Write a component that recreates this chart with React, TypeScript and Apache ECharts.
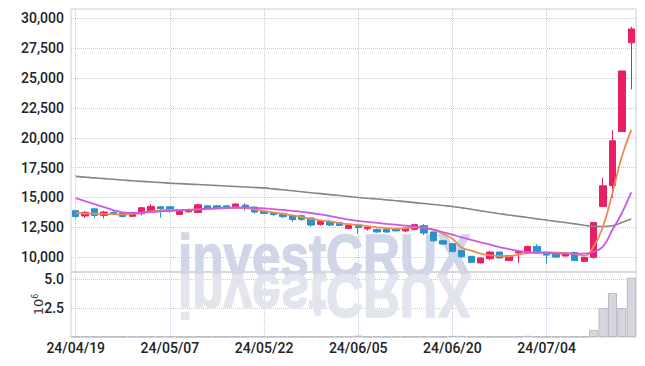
import React, { useEffect, useRef } from 'react';
import * as echarts from 'echarts';

const dates = [
  '24/04/19','24/04/22','24/04/23','24/04/24','24/04/25','24/04/26','24/04/29','24/04/30','24/05/02','24/05/03',
  '24/05/07','24/05/08','24/05/09','24/05/10','24/05/13','24/05/14','24/05/16','24/05/17','24/05/20','24/05/21',
  '24/05/22','24/05/23','24/05/24','24/05/27','24/05/28','24/05/29','24/05/30','24/05/31','24/06/03','24/06/04',
  '24/06/05','24/06/07','24/06/10','24/06/11','24/06/12','24/06/13','24/06/14','24/06/17','24/06/18','24/06/19',
  '24/06/20','24/06/21','24/06/24','24/06/25','24/06/26','24/06/27','24/06/28','24/07/01','24/07/02','24/07/03',
  '24/07/04','24/07/05','24/07/08','24/07/09','24/07/10','24/07/11','24/07/12','24/07/15','24/07/16','24/07/17',
];

const opens = [
  13890,13450,14050,13500,13750,13700,13420,13640,13800,14220,
  14220,13580,13800,13750,14300,14300,14300,14220,14360,14200,
  13830,13720,13640,13500,13470,13280,12750,13000,12890,12410,
  12700,12380,12330,12330,12360,12200,12330,12640,12110,11380,
  11130,10570,10070,9520,9870,10430,9730,10350,10400,10900,
  10350,10400,10100,10400,9650,9990,14250,16000,20520,27960,
];
const closes = [
  13410,13750,13500,13780,13620,13410,13720,14140,14250,14060,
  13890,13890,13970,14390,14055,14080,14190,14450,14080,13780,
  13660,13580,13390,13140,13160,12690,13000,12690,12660,12660,
  12470,12490,12110,12110,12200,12440,12720,12020,11380,11100,
  10490,10040,9570,9930,10430,9930,10130,10460,10900,10350,
  10180,10010,10350,9730,9990,12910,15980,19740,25590,29110,
];
const lows = [
  13250,13300,13300,13250,13550,13300,13380,13500,13720,13300,
  13720,13550,13720,13700,13950,14000,14100,14150,13900,13650,
  13600,13450,13250,12950,13050,12550,12650,12600,12600,12350,
  11950,12220,12050,12050,12150,12100,12250,11850,11300,11050,
  10400,9950,9480,9480,9750,9900,9700,9520,10350,10300,
  9460,9950,10050,9650,9620,9880,14200,14950,20500,24060,
];
const highs = [
  13970,13860,14140,13890,13850,13780,13800,14200,14450,14300,
  14300,13950,14050,14450,14380,14380,14350,14520,14520,14250,
  13900,13780,13750,13550,13550,13300,13100,13050,12950,12800,
  12800,12560,12400,12400,12420,12500,12800,12780,12150,11420,
  11200,10600,10100,9980,10520,10450,10200,10500,10950,11100,
  10400,10450,10400,10450,10020,12950,16620,20660,25620,29300,
];

const ma5 = [
  13720,13650,13640,13620,13600,13580,13620,13720,13830,13920,
  13960,13960,13980,14000,14020,14060,14100,14120,14110,14000,
  13880,13750,13620,13500,13360,13200,13080,13000,12860,12760,
  12700,12600,12500,12440,12400,12420,12490,12450,12300,11950,
  11550,10800,10550,10300,10150,10100,10080,10220,10350,10400,
  10420,10380,10330,10280,10130,10900,12580,15370,18430,20660,
];
const ma10 = [
  14950,14700,14450,14200,13950,13750,13680,13720,13780,13830,
  13880,13920,13960,14010,14060,14110,14140,14160,14160,14130,
  14090,14030,13960,13880,13800,13700,13580,13440,13300,13150,
  13040,12950,12870,12790,12720,12650,12560,12440,12300,12100,
  11880,11650,11450,11250,11050,10850,10680,10520,10420,10380,
  10350,10320,10300,10290,10300,10450,10900,12300,13700,15420,
];
const maLong = [
  16770,16700,16640,16580,16520,16460,16400,16350,16300,16250,
  16200,16160,16120,16080,16040,16000,15960,15920,15880,15840,
  15800,15720,15640,15560,15480,15400,15320,15240,15160,15080,
  15000,14930,14870,14800,14730,14650,14570,14490,14410,14330,
  14250,14130,14010,13880,13760,13640,13530,13430,13320,13210,
  13110,13000,12900,12790,12680,12580,12570,12630,12900,13200,
];

// volume in millions of shares
const volumes = [
  0.03,0.03,0.03,0.03,0.03,0.03,0.03,0.03,0.03,0.03,
  0.03,0.03,0.03,0.03,0.03,0.03,0.03,0.03,0.03,0.03,
  0.03,0.03,0.03,0.03,0.03,0.03,0.03,0.03,0.03,0.03,
  0.12,0.03,0.03,0.03,0.03,0.03,0.03,0.03,0.03,0.03,
  0.1,0.1,0.03,0.03,0.03,0.03,0.03,0.03,0.1,0.03,
  0.03,0.03,0.03,0.03,0.03,0.6,2.5,3.8,2.5,5.1,
];

const priceTicks = [10000, 12500, 15000, 17500, 20000, 22500, 25000, 27500, 30000];
const volumeTicks = [2.5, 5.0];

const UP = '#e91e63';
const DOWN = '#2a93c9';
const GRID_LINE = '#c5c9db';
const FONT = 'Roboto, "Liberation Sans", sans-serif';
const WM_FONT = '"Liberation Sans", Arial, sans-serif';

export default function App() {
  const ref = useRef<HTMLDivElement>(null);
  useEffect(() => {
    const chart = echarts.init(ref.current!, null, { renderer: 'svg' });
    const candleData = opens.map((o, i) => [o, closes[i], lows[i], highs[i]]);
    const splitLineStyle = { show: true, lineStyle: { color: GRID_LINE, type: 'dotted', width: 1 } };
    const labelStyle = { fontFamily: FONT, fontSize: 14, fontWeight: 500, color: '#222' };
    chart.setOption({
      animation: false,
      backgroundColor: '#ffffff',
      grid: [
        { left: 71, right: 9, top: 9, height: 263, show: true, borderColor: '#cccccc', borderWidth: 1, backgroundColor: 'transparent' },
        { left: 71, right: 9, top: 272, height: 65, show: true, borderColor: '#cccccc', borderWidth: 1, backgroundColor: 'transparent' },
      ],
      xAxis: [
        {
          type: 'category', gridIndex: 0, data: dates, boundaryGap: true,
          axisLine: { show: false }, axisTick: { show: false }, axisLabel: { show: false },
          splitLine: { ...splitLineStyle, interval: 9, alignWithLabel: true },
        },
        {
          type: 'category', gridIndex: 1, data: dates, boundaryGap: true,
          axisLine: { show: false }, axisTick: { show: false, alignWithLabel: true, interval: 9 },
          axisLabel: { interval: 9, margin: 4, ...labelStyle },
          splitLine: { ...splitLineStyle, interval: 9, alignWithLabel: true },
        },
      ],
      yAxis: [
        {
          type: 'value', gridIndex: 0, min: 8760, max: 30780,
          axisLine: { show: false },
          axisTick: { show: false, customValues: priceTicks },
          axisLabel: {
            customValues: priceTicks, margin: 7, ...labelStyle,
            formatter: (v: number) => v.toLocaleString('en-US'),
          },
          splitLine: splitLineStyle,
        },
        {
          type: 'value', gridIndex: 1, min: 0, max: 5.6,
          axisLine: { show: false },
          axisTick: { show: false, customValues: volumeTicks },
          axisLabel: {
            customValues: volumeTicks, margin: 7, ...labelStyle,
            formatter: (v: number) => v.toFixed(1),
          },
          splitLine: splitLineStyle,
          name: '10{s|6}', nameLocation: 'middle', nameRotate: 90, nameGap: 25, nameMoveOverlap: false,
          nameTextStyle: {
            fontFamily: 'DejaVu Sans', fontSize: 13, color: '#333',
            rich: { s: { fontFamily: 'DejaVu Sans', fontSize: 8, color: '#333', verticalAlign: 'top', padding: [0, 0, 7, 0] } },
          },
        },
      ],
      graphic: [
        {
          type: 'text', x: 178, y: 256, scaleX: 0.84, z: 1, silent: true,
          style: { text: 'investCRUX', fontFamily: WM_FONT, fontWeight: 'bold', fontSize: 61, fill: '#d0d6e8', stroke: '#d0d6e8', lineWidth: 1.5, verticalAlign: 'middle', align: 'left' },
        },
        {
          type: 'text', x: 178, y: 296, scaleX: 0.84, scaleY: -1, z: 1, silent: true,
          style: { text: 'investCRUX', fontFamily: WM_FONT, fontWeight: 'bold', fontSize: 61, fill: '#e2e5ee', stroke: '#e2e5ee', lineWidth: 1.5, verticalAlign: 'middle', align: 'left' },
        },
      ],
      series: [
        {
          type: 'candlestick', xAxisIndex: 0, yAxisIndex: 0, data: candleData, barWidth: '72%',
          itemStyle: { color: UP, color0: DOWN, borderColor: UP, borderColor0: DOWN, borderWidth: 1 },
          z: 3,
        },
        {
          type: 'line', xAxisIndex: 0, yAxisIndex: 0, data: maLong, smooth: true, showSymbol: false,
          lineStyle: { color: '#858585', width: 1.6 }, z: 4,
        },
        {
          type: 'line', xAxisIndex: 0, yAxisIndex: 0, data: ma5, smooth: true, showSymbol: false,
          lineStyle: { color: '#ee8a52', width: 1.8 }, z: 4,
        },
        {
          type: 'line', xAxisIndex: 0, yAxisIndex: 0, data: ma10, smooth: true, showSymbol: false,
          lineStyle: { color: '#cc5ae6', width: 1.8 }, z: 4,
        },
        {
          type: 'bar', xAxisIndex: 1, yAxisIndex: 1, data: volumes, barWidth: '96%',
          itemStyle: { color: '#d6d6de', borderColor: '#b9b9c3', borderWidth: 1 }, z: 3,
        },
      ],
    });
    return () => chart.dispose();
  }, []);
  return <div ref={ref} style={{ position: 'fixed', left: 0, top: 0, width: 645, height: 366 }} />;
}
